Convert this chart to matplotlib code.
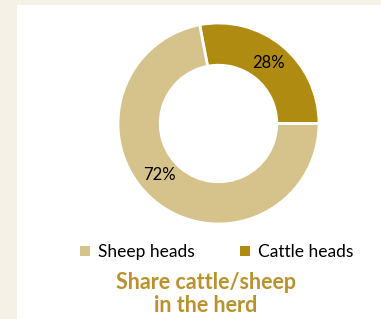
import matplotlib
matplotlib.use("Agg")
import matplotlib.pyplot as plt
from matplotlib.patches import Rectangle
import numpy as np

labels = ["Cattle heads", "Sheep heads"]
shares = [28, 72]
colors = ["#b08b12", "#d6c28b"]
title = "Share cattle/sheep\nin the herd"

plt.rcParams['font.family'] = ['Lato', 'DejaVu Sans']

fig = plt.figure(figsize=(3.81, 3.19), dpi=100)
fig.patch.set_facecolor("#f6f1e6")
fig.patches.append(Rectangle((17/381, 0), 1, (319-5)/319, transform=fig.transFigure,
                             facecolor="white", edgecolor="none", zorder=-5))

ax = fig.add_axes([118/381, (319-224)/319, 201/381, 201/319])
wedges, texts, autotexts = ax.pie(
    shares, colors=colors, startangle=0, counterclock=True,
    autopct=lambda p: f"{p:.0f}%", pctdistance=0.78,
    wedgeprops=dict(width=0.42, edgecolor="white", linewidth=2),
    textprops=dict(fontsize=12, color="black"))
# the sheep label sits a bit further round the ring in the original
ang = np.deg2rad(221)
autotexts[1].set_position((0.78 * np.cos(ang), 0.78 * np.sin(ang)))
ax.set_xlim(-1, 1)
ax.set_ylim(-1, 1)
ax.set_aspect("equal")

leg = fig.legend([wedges[1], wedges[0]], [labels[1], labels[0]], ncol=2,
                 loc="center", bbox_to_anchor=(217/381, 1 - 252/319),
                 frameon=False, fontsize=12.5, handlelength=0.55, handleheight=0.55,
                 handletextpad=0.5, columnspacing=2.6)
for h in leg.legend_handles:
    h.set_edgecolor("none")

fig.text(206/381, 1 - 294/319, title, ha="center", va="center", fontsize=15.5,
         fontweight="bold", color="#b8922e", linespacing=1.15)

fig.savefig("out.png", dpi=100, facecolor=fig.get_facecolor())
